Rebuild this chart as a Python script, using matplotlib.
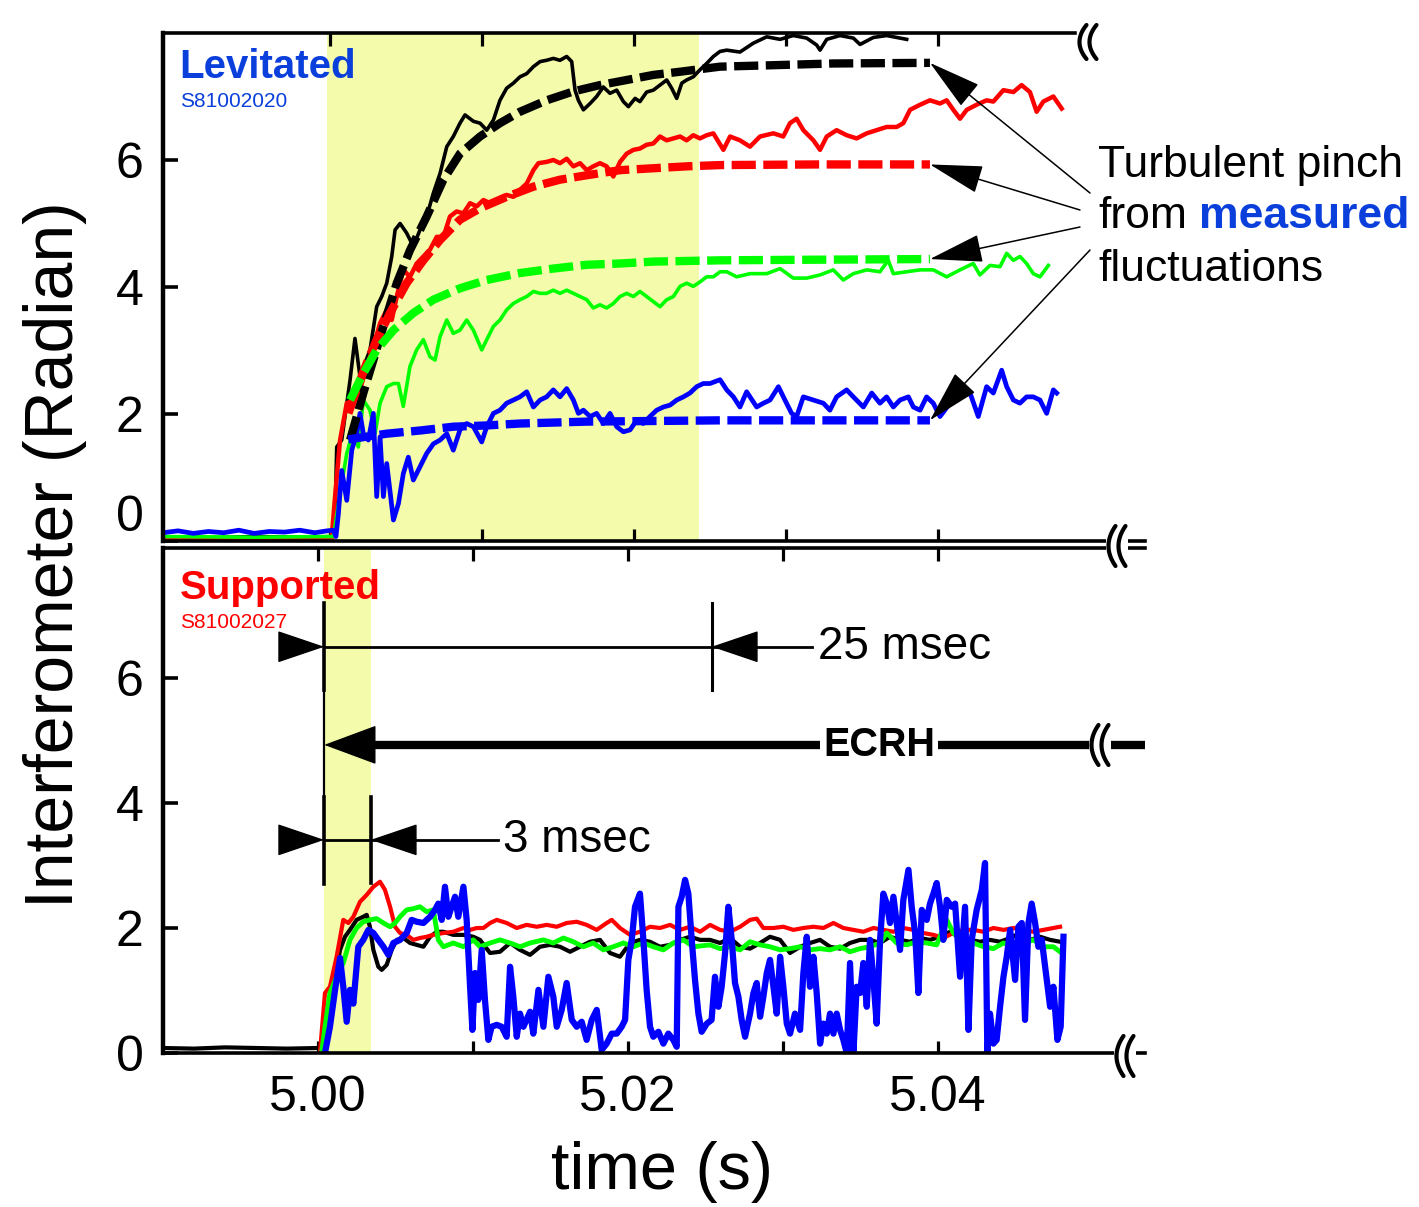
import numpy as np
import matplotlib.pyplot as plt
from matplotlib.lines import Line2D
from matplotlib.patches import Rectangle

plt.rcParams['font.family'] = ['Liberation Sans', 'DejaVu Sans']

W, H = 1419, 1207
T0 = 5.0   # s; all trace times are in ms after T0

# ---- levitated shot S81002020 : interferometer chords (ms, radian)
lev_black = [(-11.0, 0.06), (-8.0, 0.05), (-5.0, 0.07), (-2.0, 0.06), (0.30, 0.07), (0.44, 1.48),
             (0.77, 1.59), (1.32, 2.54), (1.64, 3.19), (1.97, 2.59), (2.63, 3.01), (3.07, 3.69),
             (3.40, 3.85), (3.73, 4.06), (4.06, 4.48), (4.28, 4.90), (4.61, 5.00), (5.04, 4.85),
             (5.48, 4.64), (5.92, 4.90), (6.36, 5.11), (6.80, 5.48), (7.24, 5.79), (7.68, 6.21),
             (8.11, 6.37), (8.55, 6.58), (8.88, 6.71), (9.43, 6.61), (9.87, 6.58), (10.31, 6.47),
             (10.75, 6.63), (11.18, 6.94), (11.62, 7.13), (12.06, 7.21), (12.50, 7.31), (12.94, 7.36),
             (13.38, 7.47), (13.82, 7.55), (14.25, 7.57), (14.69, 7.60), (15.13, 7.57), (15.57, 7.63),
             (15.90, 7.55), (16.12, 7.10), (16.34, 6.94), (16.67, 6.79), (17.11, 6.89), (17.54, 7.00),
             (17.98, 7.15), (18.42, 7.05), (18.86, 7.10), (19.30, 6.92), (19.63, 6.84), (20.07, 6.97),
             (20.39, 6.92), (20.83, 7.07), (21.27, 7.10), (21.71, 7.18), (22.15, 7.26), (22.48, 7.13),
             (22.81, 6.97), (23.14, 7.21), (23.46, 7.26), (23.90, 7.31), (24.34, 7.42), (24.78, 7.52),
             (25.22, 7.63), (25.66, 7.71), (26.10, 7.73), (26.97, 7.70), (27.85, 7.84), (28.73, 7.94),
             (29.61, 7.90), (30.48, 7.96), (31.36, 7.92), (32.02, 7.81), (32.24, 7.73), (32.68, 7.90),
             (33.55, 7.96), (34.43, 7.92), (34.87, 7.82), (35.75, 7.93), (36.62, 7.96), (37.50, 7.92),
             (37.94, 7.90)]

lev_red = [(-11.0, 0.03), (-8.0, 0.05), (-5.0, 0.02), (-2.0, 0.04), (0.10, 0.03), (0.33, 0.70),
           (0.66, 1.59), (1.10, 2.17), (1.54, 2.22), (1.97, 2.38), (2.41, 2.75), (2.85, 3.06),
           (3.29, 3.43), (3.73, 3.64), (4.06, 3.48), (4.39, 3.85), (4.82, 4.27), (5.26, 4.16),
           (5.70, 4.37), (6.14, 4.48), (6.58, 4.59), (7.02, 4.79), (7.46, 4.79), (7.89, 5.11),
           (8.33, 5.19), (8.77, 5.16), (9.21, 5.32), (9.65, 5.27), (10.09, 5.37), (10.53, 5.32),
           (11.18, 5.40), (11.62, 5.45), (12.06, 5.42), (12.50, 5.53), (12.94, 5.63), (13.38, 5.84),
           (13.71, 5.95), (14.25, 5.97), (14.69, 6.00), (15.13, 5.95), (15.57, 6.02), (16.01, 5.90),
           (16.45, 5.95), (16.89, 5.84), (17.32, 5.90), (17.76, 5.95), (18.20, 5.90), (18.64, 5.74),
           (19.08, 5.97), (19.52, 6.10), (19.96, 6.16), (20.39, 6.18), (20.83, 6.24), (21.27, 6.26),
           (21.71, 6.37), (22.15, 6.31), (22.59, 6.34), (23.03, 6.37), (23.46, 6.31), (23.90, 6.39),
           (24.34, 6.34), (24.78, 6.39), (25.22, 6.42), (25.88, 6.16), (26.32, 6.37), (26.97, 6.31),
           (27.63, 6.21), (28.29, 6.37), (29.17, 6.42), (29.82, 6.37), (30.26, 6.58), (30.70, 6.65),
           (31.14, 6.47), (31.80, 6.31), (32.24, 6.16), (32.68, 6.37), (33.33, 6.47), (33.99, 6.39),
           (34.65, 6.34), (35.31, 6.42), (35.96, 6.47), (36.62, 6.52), (37.28, 6.52), (37.72, 6.58),
           (38.16, 6.79), (38.82, 6.87), (39.47, 6.94), (40.13, 6.89), (40.57, 6.94), (41.01, 6.79),
           (41.45, 6.65), (41.89, 6.79), (42.54, 6.87), (43.20, 6.94), (43.64, 6.92), (44.30, 7.10),
           (44.96, 7.07), (45.50, 7.18), (46.05, 7.07), (46.49, 6.76), (46.93, 6.92), (47.59, 7.00),
           (48.14, 6.81)]

lev_green = [(-11.0, 0.07), (-5.0, 0.06), (0.0, 0.07), (0.22, 0.07), (0.66, 0.75), (1.10, 1.38),
             (1.54, 1.75), (1.86, 1.48), (2.19, 2.22), (2.63, 2.06), (2.96, 1.69), (3.29, 2.17),
             (3.73, 2.43), (4.17, 2.48), (4.50, 2.48), (4.82, 2.12), (5.26, 2.75), (5.70, 3.01),
             (6.14, 3.17), (6.58, 2.90), (6.91, 2.85), (7.24, 3.22), (7.68, 3.48), (8.11, 3.27),
             (8.55, 3.32), (8.99, 3.48), (9.43, 3.32), (9.98, 3.01), (10.31, 3.17), (10.75, 3.38),
             (11.18, 3.48), (11.62, 3.64), (12.06, 3.74), (12.50, 3.80), (12.94, 3.85), (13.38, 3.93),
             (13.82, 3.90), (14.25, 3.90), (14.69, 3.95), (15.13, 3.90), (15.57, 3.95), (16.01, 3.90),
             (16.45, 3.85), (16.89, 3.80), (17.32, 3.67), (17.76, 3.72), (18.20, 3.67), (18.64, 3.74),
             (19.08, 3.85), (19.52, 3.90), (19.96, 3.85), (20.39, 3.93), (20.83, 3.85), (21.27, 3.77),
             (21.71, 3.69), (22.15, 3.80), (22.59, 3.85), (23.03, 4.01), (23.46, 4.06), (23.90, 4.01),
             (24.34, 4.08), (24.78, 4.16), (25.22, 4.16), (25.66, 4.24), (26.10, 4.24), (26.75, 4.16),
             (27.63, 4.21), (28.73, 4.21), (29.61, 4.29), (30.48, 4.14), (31.36, 4.14), (32.24, 4.19),
             (33.11, 4.27), (33.77, 4.11), (34.43, 4.21), (35.31, 4.27), (36.18, 4.24), (36.73, 4.42),
             (37.06, 4.21), (37.94, 4.24), (38.82, 4.27), (39.69, 4.27), (40.57, 4.16), (41.45, 4.27),
             (42.32, 4.37), (42.76, 4.19), (43.42, 4.34), (44.08, 4.32), (44.52, 4.53), (44.96, 4.42),
             (45.39, 4.48), (45.83, 4.37), (46.27, 4.21), (46.71, 4.16), (47.26, 4.34)]

lev_blue = [(-11.0, 0.13), (-10.0, 0.16), (-9.0, 0.12), (-8.0, 0.15), (-7.0, 0.13), (-6.0, 0.17),
            (-5.0, 0.12), (-4.0, 0.15), (-3.0, 0.14), (-2.0, 0.17), (-1.0, 0.13), (-0.2, 0.16),
            (0.22, 0.17), (0.39, 0.07), (0.55, 0.43), (0.77, 1.11), (1.10, 0.64), (1.43, 1.43),
            (1.75, 1.69), (1.97, 2.01), (2.19, 1.69), (2.52, 1.59), (2.85, 2.01), (3.07, 0.70),
            (3.29, 1.64), (3.51, 0.70), (3.73, 1.22), (4.17, 0.33), (4.50, 0.59), (4.82, 1.06),
            (5.15, 1.32), (5.48, 0.96), (5.92, 1.17), (6.36, 1.38), (6.80, 1.53), (7.24, 1.59),
            (7.68, 1.69), (8.11, 1.43), (8.55, 1.75), (8.99, 1.85), (9.43, 1.80), (9.98, 1.56),
            (10.31, 1.80), (10.75, 2.01), (11.18, 2.06), (11.62, 2.17), (12.06, 2.22), (12.50, 2.27),
            (12.94, 2.35), (13.38, 2.11), (13.82, 2.22), (14.25, 2.27), (14.69, 2.38), (15.13, 2.27),
            (15.57, 2.40), (16.01, 2.22), (16.34, 2.01), (16.67, 2.06), (17.11, 1.96), (17.54, 2.01),
            (17.98, 1.85), (18.42, 2.01), (18.86, 1.80), (19.30, 1.72), (19.74, 1.75), (20.17, 1.90),
            (20.61, 1.85), (21.05, 1.96), (21.49, 2.06), (21.93, 2.11), (22.37, 2.14), (22.81, 2.22),
            (23.25, 2.27), (23.68, 2.33), (24.12, 2.43), (24.56, 2.48), (25.00, 2.48), (25.66, 2.54),
            (26.10, 2.38), (26.54, 2.27), (26.97, 2.11), (27.41, 2.35), (28.07, 2.11), (28.51, 2.17),
            (28.95, 2.22), (29.50, 2.43), (29.93, 2.22), (30.37, 2.01), (30.70, 1.96), (31.14, 2.27),
            (31.80, 2.22), (32.46, 2.17), (32.89, 2.06), (33.33, 2.27), (33.99, 2.38), (34.43, 2.27),
            (35.09, 2.11), (35.64, 2.33), (36.18, 2.17), (36.62, 2.27), (37.06, 2.11), (37.50, 2.22),
            (38.05, 2.27), (38.38, 2.11), (38.82, 2.06), (39.25, 2.27), (39.69, 2.17), (40.13, 1.96),
            (40.79, 2.17), (41.45, 2.27), (42.11, 2.33), (42.65, 1.96), (43.20, 2.43), (43.64, 2.33),
            (44.19, 2.69), (44.52, 2.43), (44.96, 2.22), (45.39, 2.17), (45.83, 2.27), (46.27, 2.27),
            (46.71, 2.22), (47.15, 2.01), (47.59, 2.38), (47.81, 2.33)]

# turbulent-pinch model curves (dashed)
pinch_black = [(1.32, 1.59), (2.19, 2.33), (2.85, 2.85), (3.51, 3.38), (4.39, 4.06), (5.26, 4.58),
               (6.36, 5.11), (7.46, 5.69), (8.55, 6.10), (9.87, 6.37), (11.18, 6.58), (12.50, 6.76),
               (14.25, 6.94), (16.01, 7.08), (17.76, 7.18), (19.52, 7.26), (21.27, 7.34), (23.03, 7.39),
               (25.66, 7.47), (28.73, 7.49), (33.11, 7.52), (39.47, 7.53)]
pinch_red = [(1.21, 2.01), (1.75, 2.38), (2.41, 2.80), (3.07, 3.17), (3.95, 3.59), (5.04, 4.06),
             (6.14, 4.42), (7.24, 4.74), (8.55, 5.06), (9.87, 5.24), (11.62, 5.42), (13.38, 5.58),
             (15.13, 5.69), (16.89, 5.76), (19.08, 5.84), (21.27, 5.87), (23.46, 5.90), (25.66, 5.92),
             (32.00, 5.93), (39.47, 5.93)]
pinch_green = [(1.32, 2.22), (2.19, 2.64), (3.07, 3.01), (4.17, 3.32), (5.48, 3.59), (6.80, 3.80),
               (8.55, 3.98), (10.31, 4.11), (12.50, 4.22), (14.69, 4.29), (16.89, 4.35), (19.08, 4.37),
               (21.27, 4.40), (25.66, 4.42), (32.00, 4.43), (39.47, 4.44)]
pinch_blue = [(1.20, 1.60), (3.73, 1.69), (5.92, 1.74), (8.11, 1.80), (10.31, 1.82), (12.50, 1.85),
              (16.89, 1.88), (21.27, 1.89), (25.66, 1.90), (39.47, 1.90)]

# ---- supported shot S81002027
sup_black = [(-10.0, 0.08), (-8.0, 0.07), (-6.0, 0.09), (-4.0, 0.08), (-2.0, 0.07), (0.0, 0.08),
             (0.45, 0.05), (0.77, 0.42), (1.10, 1.17), (1.42, 1.65), (1.74, 1.86), (2.06, 1.97),
             (2.49, 2.13), (2.92, 2.18), (3.14, 2.21), (3.35, 2.02), (3.57, 1.65), (3.89, 1.38),
             (4.11, 1.33), (4.43, 1.41), (4.75, 1.65), (5.08, 1.81), (5.51, 1.84), (5.94, 1.76),
             (6.37, 1.73), (6.80, 1.70), (7.23, 1.86), (7.66, 1.94), (8.09, 1.94), (8.73, 1.89),
             (9.38, 1.89), (10.02, 1.86), (10.45, 1.81), (11.10, 1.60), (11.74, 1.62), (12.39, 1.76),
             (13.03, 1.65), (13.68, 1.57), (14.32, 1.70), (14.97, 1.73), (15.61, 1.70), (16.26, 1.62),
             (16.90, 1.70), (17.55, 1.78), (18.19, 1.81), (18.84, 1.60), (19.48, 1.54), (20.13, 1.76),
             (20.77, 1.81), (21.42, 1.78), (22.06, 1.70), (22.71, 1.73), (23.35, 1.81), (24.00, 1.86),
             (24.65, 1.81), (25.29, 1.81), (25.94, 1.76), (26.58, 1.84), (27.23, 1.70), (27.87, 1.67),
             (28.52, 1.76), (29.16, 1.86), (29.81, 1.81), (30.45, 1.60), (31.10, 1.70), (31.74, 1.76),
             (32.39, 1.81), (33.03, 1.70), (33.68, 1.67), (34.32, 1.76), (34.97, 1.81), (35.61, 1.81),
             (36.26, 1.76), (36.90, 1.86), (37.55, 1.81), (38.19, 1.78), (38.84, 1.84), (39.48, 1.81),
             (40.13, 1.86), (40.77, 1.94), (41.42, 1.84), (42.06, 1.81), (42.71, 1.78), (43.35, 1.81),
             (44.00, 1.78), (44.65, 1.84), (45.29, 1.92), (45.94, 1.81), (46.58, 1.86), (47.23, 1.81),
             (47.87, 1.78)]

sup_red = [(0.13, 0.02), (0.45, 0.96), (0.77, 1.06),
           (1.20, 1.54), (1.63, 2.13), (1.96, 2.08), (2.28, 2.18), (2.71, 2.42), (3.14, 2.53),
           (3.57, 2.66), (4.00, 2.74), (4.32, 2.61), (4.65, 2.34), (4.97, 2.02), (5.29, 1.92),
           (5.72, 1.89), (6.15, 1.81), (6.58, 1.84), (7.01, 1.86), (7.44, 1.89), (8.09, 1.92),
           (8.73, 1.94), (9.38, 2.00), (9.81, 1.97), (10.24, 2.00), (10.67, 2.00), (11.10, 2.08),
           (11.53, 2.13), (12.17, 2.08), (12.82, 2.00), (13.46, 2.05), (14.11, 2.02), (14.75, 2.05),
           (15.40, 2.02), (16.04, 2.08), (16.69, 2.10), (17.33, 2.05), (17.98, 1.97), (18.62, 2.08),
           (18.95, 2.13), (19.48, 2.00), (20.13, 1.89), (20.77, 1.94), (21.42, 2.02), (22.06, 2.00),
           (22.71, 2.05), (23.35, 1.97), (24.00, 2.02), (24.65, 1.94), (25.29, 2.05), (25.94, 1.97),
           (26.58, 1.94), (27.23, 2.02), (27.87, 2.13), (28.30, 2.15), (28.73, 2.00), (29.38, 2.00),
           (30.02, 2.02), (30.67, 1.97), (31.31, 2.00), (31.96, 2.02), (32.60, 2.00), (33.25, 2.08),
           (33.89, 2.00), (34.54, 1.97), (35.18, 1.94), (35.83, 2.00), (36.47, 1.97), (37.12, 1.94),
           (37.76, 2.00), (38.41, 1.97), (39.05, 1.92), (39.70, 1.89), (40.34, 1.84), (40.99, 1.92),
           (41.63, 1.97), (42.28, 1.97), (42.92, 1.94), (43.57, 2.00), (44.22, 1.97), (44.86, 2.00),
           (45.51, 1.97), (46.15, 1.94), (46.80, 1.97), (47.44, 2.00), (47.87, 2.02)]

sup_green = [(0.24, 0.02), (0.45, 0.42), (0.77, 0.96), (1.20, 1.22),
             (1.63, 1.44), (2.06, 1.81), (2.49, 2.00), (2.92, 2.10), (3.35, 2.13), (3.78, 2.15),
             (4.22, 2.08), (4.65, 2.02), (4.97, 2.08), (5.29, 2.18), (5.72, 2.29), (6.15, 2.31),
             (6.58, 2.34), (7.01, 2.26), (7.44, 2.29), (7.76, 1.81), (8.09, 1.70), (8.73, 1.76),
             (9.38, 1.70), (10.02, 1.81), (10.45, 1.70), (11.10, 1.76), (11.74, 1.81), (12.39, 1.76),
             (13.03, 1.70), (13.68, 1.76), (14.54, 1.81), (15.18, 1.76), (15.83, 1.84), (16.47, 1.78),
             (17.12, 1.70), (17.76, 1.76), (18.41, 1.65), (19.05, 1.70), (19.70, 1.76), (20.34, 1.70),
             (20.99, 1.76), (21.63, 1.70), (22.28, 1.65), (22.92, 1.76), (23.57, 1.81), (24.22, 1.70),
             (25.29, 1.73), (25.94, 1.67), (26.58, 1.70), (27.23, 1.65), (27.87, 1.78), (28.52, 1.73),
             (29.16, 1.70), (29.81, 1.65), (30.45, 1.67), (31.10, 1.70), (31.74, 1.65), (32.39, 1.67),
             (33.03, 1.65), (33.68, 1.70), (34.32, 1.62), (34.97, 1.67), (35.61, 1.70), (36.26, 1.76),
             (36.69, 1.92), (37.33, 1.76), (37.98, 1.73), (38.62, 1.78), (39.27, 1.76), (39.91, 1.73),
             (40.56, 2.13), (40.99, 1.92), (41.63, 1.78), (42.28, 1.76), (42.92, 1.70), (43.57, 1.67),
             (44.22, 1.76), (44.86, 1.70), (45.51, 1.76), (46.15, 1.81), (46.80, 1.70), (47.44, 1.70),
             (47.87, 1.62)]

sup_blue = [(0.45, 0.00), (0.77, 0.42), (1.10, 1.01), (1.42, 1.52),
            (1.63, 1.06), (1.85, 0.50), (2.06, 1.01), (2.28, 0.79), (2.60, 1.70), (2.92, 1.81),
            (3.25, 1.97), (3.57, 1.92), (3.89, 1.81), (4.22, 1.70), (4.54, 1.57), (4.86, 1.76),
            (5.29, 1.81), (5.72, 1.92), (6.04, 2.13), (6.37, 2.10), (6.80, 2.08), (7.23, 2.18),
            (7.55, 2.29), (7.76, 2.39), (7.98, 2.13), (8.19, 2.66), (8.41, 2.18), (8.62, 2.34),
            (8.84, 2.50), (9.05, 2.18), (9.38, 2.66), (9.59, 2.13), (9.81, 1.06), (9.96, 0.37),
            (10.13, 1.28), (10.34, 0.85), (10.56, 1.65), (10.77, 0.85), (10.99, 0.21), (11.20, 0.42),
            (11.53, 0.45), (11.85, 0.42), (12.17, 0.26), (12.39, 1.38), (12.60, 0.90), (12.82, 0.26),
            (13.03, 0.63), (13.25, 0.42), (13.68, 0.66), (13.89, 0.31), (14.22, 1.01), (14.54, 0.42),
            (14.86, 1.22), (15.18, 0.90), (15.40, 0.42), (15.72, 0.69), (16.04, 1.12), (16.37, 0.53),
            (16.69, 0.42), (17.01, 0.50), (17.33, 0.21), (17.66, 0.53), (17.98, 0.69), (18.30, 0.05),
            (18.62, 0.15), (18.95, 0.31), (19.27, 0.31), (19.59, 0.42), (19.81, 0.53), (20.02, 1.49),
            (20.24, 1.81), (20.45, 2.34), (20.77, 2.55), (20.99, 1.81), (21.20, 1.01), (21.42, 0.42),
            (21.63, 0.26), (21.96, 0.34), (22.28, 0.15), (22.60, 0.31), (22.92, 0.21), (23.14, 0.10),
            (23.25, 2.34), (23.46, 2.50), (23.68, 2.77), (23.89, 2.55), (24.11, 1.81), (24.32, 1.17),
            (24.54, 0.63), (24.75, 0.34), (25.08, 0.47), (25.39, 0.53), (25.61, 1.22), (25.83, 0.74),
            (26.04, 1.06), (26.26, 1.60), (26.47, 2.34), (26.69, 1.81), (26.90, 1.12), (27.12, 0.90),
            (27.33, 0.53), (27.55, 0.26), (27.87, 0.63), (28.09, 0.96), (28.30, 1.12), (28.52, 0.58),
            (28.73, 0.90), (28.95, 1.28), (29.16, 1.49), (29.38, 1.06), (29.59, 0.63), (29.81, 1.54),
            (30.02, 1.06), (30.24, 0.47), (30.45, 0.31), (30.77, 0.63), (31.10, 0.37), (31.31, 1.28),
            (31.53, 1.86), (31.74, 1.06), (31.96, 1.54), (32.17, 0.96), (32.39, 0.15), (32.60, 0.47),
            (32.82, 0.31), (33.03, 0.63), (33.25, 0.31), (33.46, 0.63), (33.68, 0.37), (33.89, 0.21),
            (34.11, 0.00), (34.32, 1.44), (34.54, 0.00), (34.75, 1.06), (34.97, 0.96), (35.18, 1.44),
            (35.40, 0.74), (35.61, 1.81), (35.83, 1.17), (36.04, 0.47), (36.26, 1.81), (36.47, 2.55),
            (36.69, 2.39), (36.90, 2.08), (37.12, 2.50), (37.33, 2.08), (37.55, 1.65), (37.76, 2.45),
            (38.09, 2.93), (38.30, 2.34), (38.52, 1.92), (38.73, 0.96), (38.95, 2.29), (39.27, 2.13),
            (39.48, 2.39), (39.70, 2.55), (39.91, 2.72), (40.13, 2.34), (40.34, 1.81), (40.56, 2.45),
            (40.88, 2.34), (41.10, 2.39), (41.42, 1.22), (41.74, 2.34), (41.96, 0.37), (42.17, 1.81),
            (42.49, 2.29), (42.82, 2.61), (43.03, 3.04), (43.18, 0.00), (43.35, 0.63), (43.57, 0.15),
            (43.78, 0.21), (44.00, 0.74), (44.22, 1.22), (44.43, 1.54), (44.65, 1.97), (44.97, 1.17),
            (45.18, 2.02), (45.40, 2.08), (45.61, 0.53), (45.83, 2.08), (46.04, 2.39), (46.26, 2.08),
            (46.47, 1.70), (46.69, 1.81), (47.01, 1.17), (47.23, 0.74), (47.44, 1.06), (47.70, 0.21),
            (47.91, 0.42), (48.04, 1.49), (48.09, 1.86)]

# timing marks (ms after T0)
ecrh_on_ms = 0.4
breakdown_ms = 3.0
window_ms = 25.0
lev_shade_ms = (-0.2, 24.3)

yellow = '#f4fbab'
label_blue = '#0a3fdb'


def to_t(ms):
    return T0 + np.asarray(ms, dtype=float) / 1000.0


def trace(ax, pairs, **kw):
    ms, val = zip(*pairs)
    return ax.plot(to_t(ms), val, **kw)


def fpx(x, y):
    # pixel position (origin top-left) -> figure fraction
    return x / W, 1 - y / H


fig = plt.figure(figsize=(W / 100, H / 100), dpi=100)
ax_top = fig.add_axes([163 / W, 1 - 541 / H, 982 / W, 508 / H])
ax_bot = fig.add_axes([163 / W, 1 - 1053 / H, 982 / W, 505 / H])
ax_top.patch.set_alpha(0)
ax_bot.patch.set_alpha(0)

ax_top.set_xlim(4.98901, 5.05362)
ax_top.set_ylim(0, 8)
ax_bot.set_xlim(4.99000, 5.05335)
ax_bot.set_ylim(0, 8.08)

# ---------------- top: levitated
ax_top.axvspan(to_t(lev_shade_ms[0]), to_t(lev_shade_ms[1]), color=yellow, lw=0, zorder=0)
trace(ax_top, lev_black, color='black', lw=2.6, zorder=2)
trace(ax_top, lev_red, color='#ff0000', lw=3.2, zorder=2)
trace(ax_top, lev_green, color='#00ff00', lw=2.6, zorder=2)
trace(ax_top, lev_blue, color='#0000ff', lw=3.4, zorder=2)
for pairs, col in [(pinch_black, 'black'), (pinch_red, '#ff0000'),
                   (pinch_green, '#00ff00'), (pinch_blue, '#0000ff')]:
    trace(ax_top, pairs, color=col, lw=6, dashes=(2.9, 0.9), dash_capstyle='butt', zorder=3)

ax_top.text(0.017, 0.933, 'Levitated', transform=ax_top.transAxes, color=label_blue,
            fontsize=29, fontweight='bold', ha='left', va='center')
ax_top.text(0.017, 0.866, 'S81002020', transform=ax_top.transAxes, color=label_blue,
            fontsize=15, ha='left', va='center')

# ---------------- bottom: supported
t_on = to_t(ecrh_on_ms)
t_bd = to_t(ecrh_on_ms + breakdown_ms)
t_win = to_t(ecrh_on_ms + window_ms)
ax_bot.axvspan(t_on, t_bd, color=yellow, lw=0, zorder=0)
trace(ax_bot, sup_black, color='black', lw=3.0, zorder=2)
trace(ax_bot, sup_red, color='#ff0000', lw=3.0, zorder=2)
trace(ax_bot, sup_green, color='#00ff00', lw=3.5, zorder=2)
trace(ax_bot, sup_blue, color='#0000ff', lw=4.5, zorder=3)

ax_bot.text(0.017, 0.921, 'Supported', transform=ax_bot.transAxes, color='#ff0000',
            fontsize=29, fontweight='bold', ha='left', va='center')
ax_bot.text(0.017, 0.853, 'S81002027', transform=ax_bot.transAxes, color='#ff0000',
            fontsize=15, ha='left', va='center')


def head(ax, tip, side, length, half):
    # filled arrow head whose tip sits at `tip`; side=-1 puts the base to the left
    ax.annotate('', xy=tip, xytext=(side * length, 0), textcoords='offset points',
                annotation_clip=False,
                arrowprops=dict(arrowstyle=f'-|>,head_length={length},head_width={half}',
                                mutation_scale=1, color='black', lw=1, shrinkA=0, shrinkB=0))


y25, y_ecrh, y3 = 6.50, 4.93, 3.41
# start line and the two end lines
ax_bot.plot([t_on, t_on], [7.2, 5.81], color='black', lw=2.6, zorder=4)
ax_bot.plot([t_on, t_on], [5.81, 4.10], color='black', lw=1.6, zorder=4)
ax_bot.plot([t_on, t_on], [4.10, 2.70], color='black', lw=2.6, zorder=4)
ax_bot.plot([t_win, t_win], [7.2, 5.81], color='black', lw=2.2, zorder=4)
ax_bot.plot([t_bd, t_bd], [4.10, 2.72], color='black', lw=2.6, zorder=4)

# 25 msec
ax_bot.plot([t_on, to_t(31.87)], [y25, y25], color='black', lw=2.0, zorder=4)
head(ax_bot, (t_on, y25), -1, 31, 10.5)
head(ax_bot, (t_win, y25), 1, 31, 10.5)
ax_bot.text(to_t(32.26), y25, '25 msec', fontsize=33, ha='left', va='center')

# 3 msec
ax_bot.plot([t_on, to_t(11.61)], [y3, y3], color='black', lw=2.0, zorder=4)
head(ax_bot, (t_on, y3), -1, 31, 10.5)
head(ax_bot, (t_bd, y3), 1, 31, 10.5)
ax_bot.text(to_t(11.94), y3, '3 msec', fontsize=33, ha='left', va='center')

# ECRH on
ax_bot.plot([to_t(ecrh_on_ms + 2.5), ax_bot.get_xlim()[1]], [y_ecrh, y_ecrh],
            color='black', lw=6, solid_capstyle='butt', zorder=4, clip_on=False)
head(ax_bot, (t_on, y_ecrh), 1, 35, 13)
ax_bot.text(to_t(36.19), y_ecrh, 'ECRH', fontsize=28.5, fontweight='bold', ha='center',
            va='center', zorder=5,
            bbox=dict(boxstyle='square,pad=0.08', fc='white', ec='none'))

# ---------------- axes styling
xt = [5.00, 5.01, 5.02, 5.03, 5.04]
for ax in (ax_top, ax_bot):
    ax.spines['right'].set_visible(False)
    for s in ('top', 'bottom'):
        ax.spines[s].set_linewidth(2.6)
    ax.spines['left'].set_linewidth(3.2)
    ax.set_xticks(xt)
    ax.set_yticks([0, 2, 4, 6])
    ax.tick_params(axis='x', which='both', direction='in', top=True, bottom=True,
                   length=9, width=2.3, labelsize=36, pad=16)
    ax.tick_params(axis='y', which='both', direction='in', left=True, right=False,
                   length=11, width=2.6, labelsize=36, pad=14)
    for s in ax.spines.values():
        s.set_zorder(6)

ax_top.tick_params(axis='x', labelbottom=False)
ax_bot.set_xticklabels(['5.00', '', '5.02', '', '5.04'])
ax_top.spines['top'].set_bounds(ax_top.get_xlim()[0], 5.049)
ytk = ax_top.yaxis.get_major_ticks()
ytk[0].label1.set_verticalalignment('bottom')

# axis titles
fig.text(*fpx(55, 555), 'Interferometer (Radian)', rotation=90, fontsize=49,
         ha='center', va='center')
fig.text(*fpx(662, 1172), 'time (s)', fontsize=48, ha='center', va='center')


def axis_break(cx, cy, h=40, gap=True):
    # two curved strokes marking a broken axis / time line
    if gap:
        x0, y0 = fpx(cx - 11, cy + h / 2)
        fig.add_artist(Rectangle((x0, y0), 22 / W, h / H, transform=fig.transFigure,
                                 fc='white', ec='none', zorder=7))
    s = np.linspace(-1, 1, 25)
    for off in (-5, 5):
        xs = cx + off + 7 * s ** 2 - 3.5
        ys = cy + (h / 2) * s
        fig.add_artist(Line2D(xs / W, 1 - ys / H, transform=fig.transFigure,
                              color='black', lw=3, zorder=8, solid_capstyle='round'))


axis_break(1088, 42, h=34, gap=False)
axis_break(1117, 546, h=40)
axis_break(1100, 745, h=40)
axis_break(1125, 1056, h=40)

# turbulent pinch annotation
fig.text(*fpx(1098, 165), 'Turbulent pinch', fontsize=32, ha='left', va='center')
t_from = fig.text(*fpx(1098, 217), 'from', fontsize=32, ha='left', va='center')
fig.text(*fpx(1098, 270), 'fluctuations', fontsize=32, ha='left', va='center')
ax_top.annotate('measured', xy=(1, 0), xycoords=t_from, xytext=(9, 0),
                textcoords='offset points', fontsize=32, fontweight='bold',
                color=label_blue, ha='left', va='bottom', annotation_clip=False)

tails = [(1090, 193), (1080, 210), (1080, 227), (1090, 250)]
for pairs, tail in zip([pinch_black, pinch_red, pinch_green, pinch_blue], tails):
    ms, val = pairs[-1]
    ax_top.annotate('', xy=(to_t(ms), val), xytext=fpx(*tail), textcoords='figure fraction',
                    annotation_clip=False,
                    arrowprops=dict(arrowstyle='-|>,head_length=34,head_width=9',
                                    mutation_scale=1, color='black', lw=1.1,
                                    shrinkA=0, shrinkB=0))

fig.savefig('out.png', dpi=100)
